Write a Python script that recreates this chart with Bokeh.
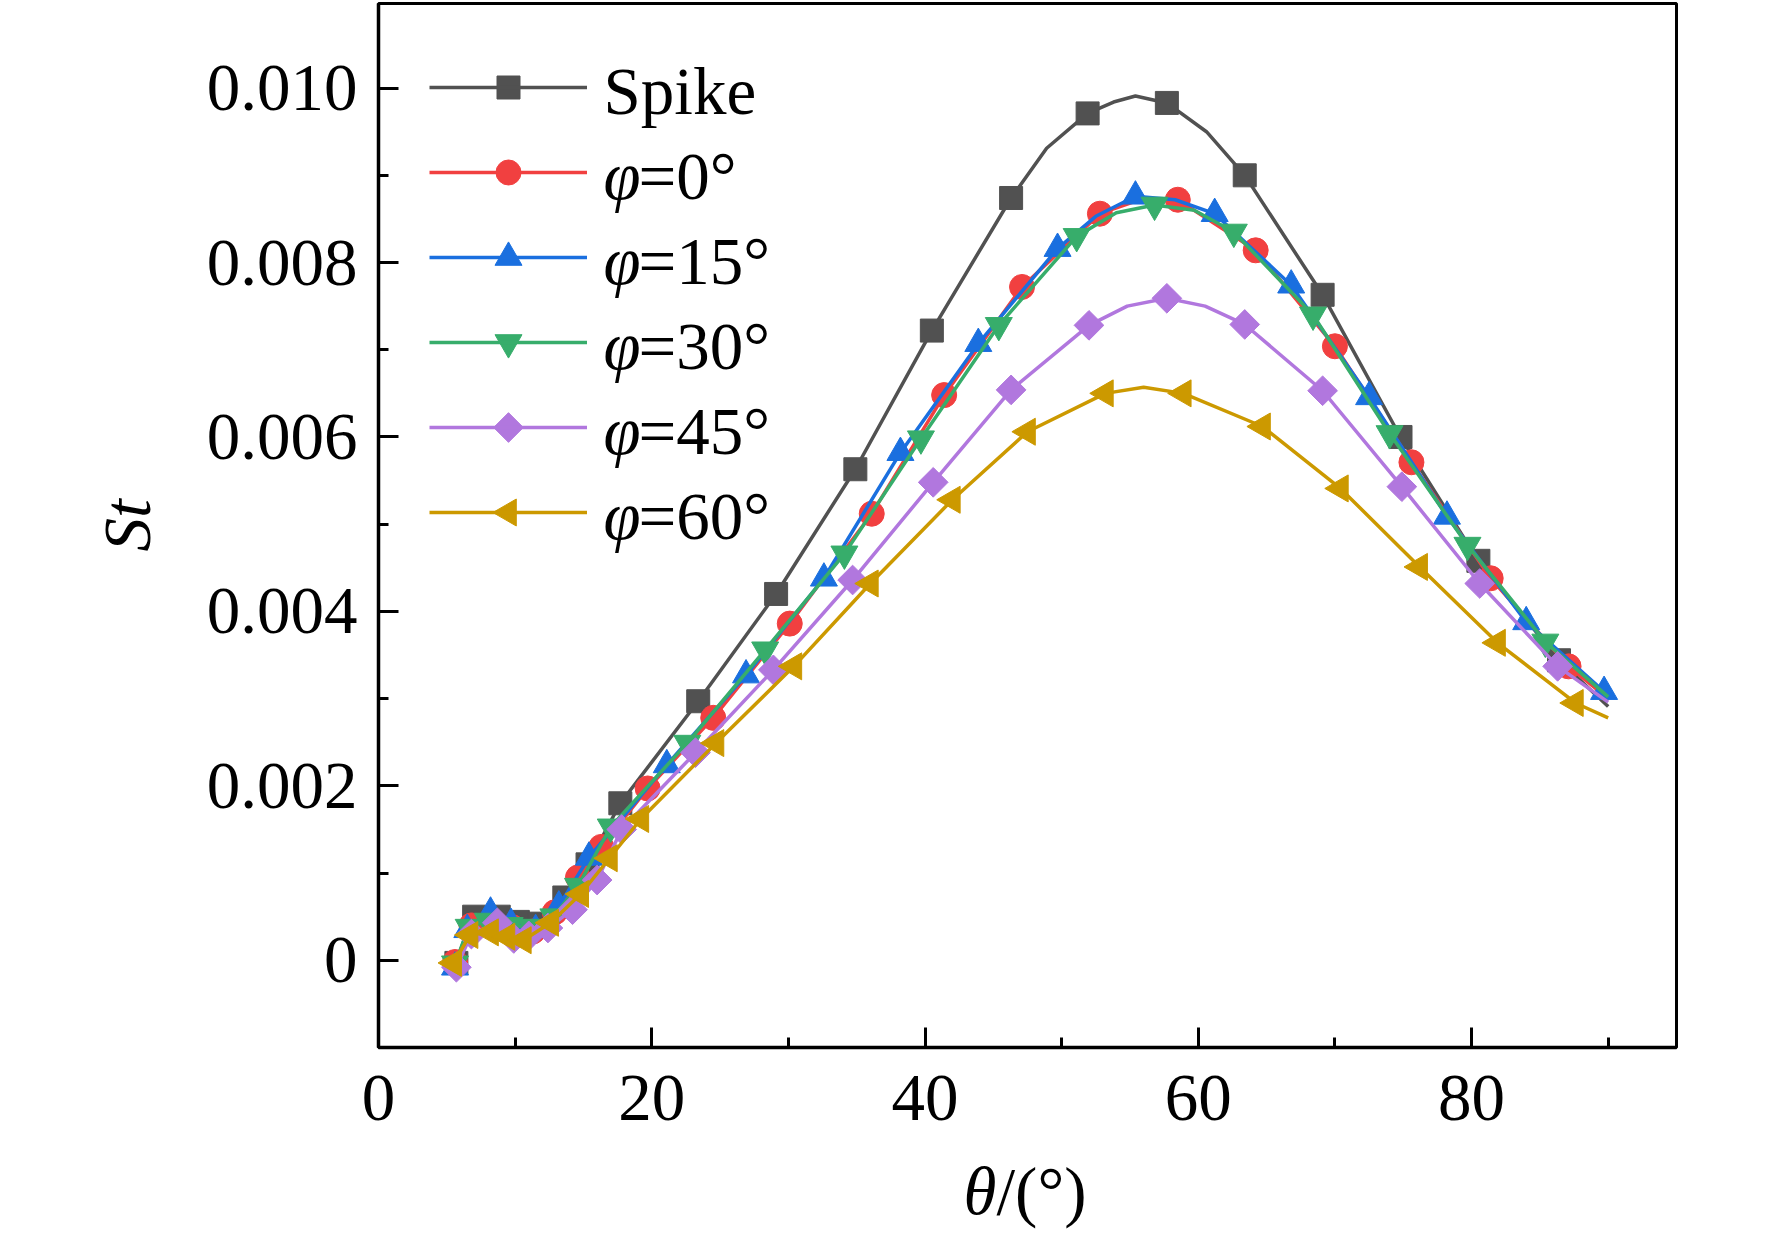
import math
from bokeh.plotting import figure
from bokeh.layouts import column
from bokeh.models import Range1d, FixedTicker, Legend, LegendItem, Label, CustomJSTickFormatter
from bokeh.core.properties import value
from bokeh.embed import file_html
from bokeh.resources import INLINE

FONT = "Liberation Serif"

# ---------------- data (theta in degrees, St) ----------------
spike_x = [5.7, 7.0, 8.8, 10.2, 11.8, 13.6, 15.3, 17.7, 23.4, 29.1, 34.9, 40.5, 46.3, 51.9, 57.7, 63.4, 69.1, 74.8, 80.5, 86.4]
spike_y = [-0.00003, 0.00050, 0.00050, 0.00044, 0.00042, 0.00072, 0.00110, 0.00180, 0.00297, 0.00420, 0.00563, 0.00722, 0.00874, 0.00971, 0.00983, 0.00900, 0.00763, 0.00600, 0.00458, 0.00344]
spike_lx = [48.9, 53.8, 55.4, 60.6, 90.0]
spike_ly = [0.00931, 0.00984, 0.00991, 0.00950, 0.00291]

phi0_x = [5.6, 6.8, 8.3, 9.8, 11.3, 12.9, 14.6, 16.3, 19.7, 24.5, 30.1, 36.1, 41.4, 47.1, 52.8, 58.5, 64.2, 70.0, 75.6, 81.4, 87.1]
phi0_y = [-0.00002, 0.00040, 0.00045, 0.00038, 0.00033, 0.00055, 0.00095, 0.00130, 0.00197, 0.00278, 0.00386, 0.00512, 0.00648, 0.00772, 0.00856, 0.00872, 0.00814, 0.00704, 0.00571, 0.00438, 0.00337]
phi0_lx = [55.7, 90.0]
phi0_ly = [0.00872, 0.00300]

phi15_x = [5.6, 6.5, 8.2, 9.7, 11.5, 13.2, 15.4, 21.1, 26.9, 32.6, 38.2, 43.9, 49.7, 55.4, 61.2, 66.8, 72.5, 78.2, 84.0, 89.7]
phi15_y = [-0.00008, 0.00035, 0.00055, 0.00042, 0.00035, 0.00062, 0.00118, 0.00224, 0.00327, 0.00438, 0.00582, 0.00707, 0.00816, 0.00876, 0.00856, 0.00774, 0.00646, 0.00509, 0.00388, 0.00308]
phi15_lx = [52.5, 58.3, 90.0]
phi15_ly = [0.00853, 0.00872, 0.00304]

phi30_x = [5.6, 6.6, 8.0, 9.6, 11.2, 12.8, 14.6, 17.0, 22.6, 28.3, 34.1, 39.7, 45.4, 51.1, 56.8, 62.6, 68.4, 74.0, 79.7, 85.4]
phi30_y = [-0.00004, 0.00038, 0.00045, 0.00040, 0.00038, 0.00050, 0.00085, 0.00153, 0.00249, 0.00356, 0.00466, 0.00598, 0.00728, 0.00830, 0.00866, 0.00835, 0.00740, 0.00604, 0.00476, 0.00365]
phi30_lx = [54.0, 59.7, 90.0]
phi30_ly = [0.00857, 0.00860, 0.00302]

phi45_x = [5.7, 6.8, 8.7, 9.9, 11.0, 12.4, 14.2, 16.0, 17.8, 23.2, 28.9, 34.7, 40.6, 46.3, 52.0, 57.7, 63.4, 69.1, 74.9, 80.6, 86.3]
phi45_y = [-0.00008, 0.00030, 0.00043, 0.00025, 0.00028, 0.00037, 0.00058, 0.00092, 0.00150, 0.00238, 0.00333, 0.00436, 0.00548, 0.00654, 0.00728, 0.00759, 0.00729, 0.00653, 0.00543, 0.00432, 0.00337]
phi45_lx = [54.8, 60.5, 90.0]
phi45_ly = [0.00750, 0.00750, 0.00296]

phi60_x = [5.5, 6.7, 8.2, 9.4, 10.6, 12.6, 14.8, 16.9, 19.2, 24.7, 30.4, 36.0, 42.0, 47.5, 53.2, 58.9, 64.7, 70.4, 76.2, 81.9, 87.6]
phi60_y = [-0.00003, 0.00029, 0.00032, 0.00027, 0.00023, 0.00043, 0.00076, 0.00117, 0.00162, 0.00249, 0.00337, 0.00432, 0.00528, 0.00606, 0.00650, 0.00650, 0.00612, 0.00541, 0.00451, 0.00364, 0.00295]
phi60_lx = [56.0, 90.0]
phi60_ly = [0.00657, 0.00278]

x_ticks = [0, 20, 40, 60, 80]
x_minor = [10, 30, 50, 70, 90]
y_ticks = [0, 0.002, 0.004, 0.006, 0.008, 0.010]
y_minor = [0.001, 0.003, 0.005, 0.007, 0.009]

series_names = ["Spike", "=0°", "=15°", "=30°", "=45°", "=60°"]
colors = ["#515151", "#F14040", "#1A6FDF", "#37AD6B", "#B177DE", "#CC9900"]

# ---------------- layout constants ----------------
W = 1770
BL, BT, BR, BB = 378, 3, 94, 113
FW, FH = W - BL - BR, 1044                 # frame 1298 x 1044
H = BT + FH + BB                           # main figure height
H2 = 82                                    # strip holding the x-axis title
X0, X1 = 0, 95
Y0, Y1 = -0.001, 0.01097
FS = "67px"

p = figure(width=W, height=H,
           min_border_left=BL, min_border_top=BT, min_border_right=BR, min_border_bottom=BB,
           x_range=Range1d(X0, X1), y_range=Range1d(Y0, Y1),
           output_backend="svg", toolbar_location=None)
p.grid.visible = False
p.outline_line_color = "black"
p.outline_line_width = 3
p.background_fill_color = "white"
p.border_fill_color = "white"

for ax in (p.xaxis[0], p.yaxis[0]):
    ax.axis_line_width = 3.5
    ax.axis_line_color = "black"
    ax.major_tick_in = 20
    ax.major_tick_out = 0
    ax.minor_tick_in = 10
    ax.minor_tick_out = 0
    ax.major_tick_line_width = 3
    ax.minor_tick_line_width = 3
    ax.major_tick_line_color = "black"
    ax.minor_tick_line_color = "black"
    ax.major_label_text_font = FONT
    ax.major_label_text_font_size = FS
    ax.major_label_text_color = "black"

p.xaxis.ticker = FixedTicker(ticks=x_ticks, minor_ticks=x_minor)
p.yaxis.ticker = FixedTicker(ticks=y_ticks, minor_ticks=y_minor)
p.yaxis.formatter = CustomJSTickFormatter(code="return Math.abs(tick) < 1e-12 ? '0' : tick.toFixed(3);")
p.xaxis.major_label_standoff = 28
p.yaxis.major_label_standoff = 21

p.yaxis.axis_label = "St"
p.yaxis.axis_label_text_font = FONT
p.yaxis.axis_label_text_font_style = "italic"
p.yaxis.axis_label_text_font_size = FS
p.yaxis.axis_label_text_color = "black"
p.yaxis.axis_label_standoff = 40

def merged(mx, my, lx, ly):
    pts = sorted(list(zip(mx, my)) + list(zip(lx, ly)))
    return [a for a, _ in pts], [b for _, b in pts]

styles = [("square", 23, 0.0), ("circle", 25, 0.0), ("triangle", 27, 0.0),
          ("inverted_triangle", 27, 0.0), ("square", 21, math.pi / 4), ("triangle", 27, math.pi / 2)]
data = [(spike_x, spike_y, spike_lx, spike_ly), (phi0_x, phi0_y, phi0_lx, phi0_ly),
        (phi15_x, phi15_y, phi15_lx, phi15_ly), (phi30_x, phi30_y, phi30_lx, phi30_ly),
        (phi45_x, phi45_y, phi45_lx, phi45_ly), (phi60_x, phi60_y, phi60_lx, phi60_ly)]

# legend geometry (screen px inside the frame)
LG_LEFT, LG_TOP, LG_ROW, LG_GW, LG_GH = 51, 51, 85, 158, 66
lg_cx = X0 + (LG_LEFT + LG_GW / 2) / FW * (X1 - X0)

items = []
for i, ((mx, my, lx, ly), (mk, sz, ang), col) in enumerate(zip(data, styles, colors)):
    cx, cy = merged(mx, my, lx, ly)
    lr = p.line(cx, cy, line_color=col, line_width=3.5)
    p.scatter(mx, my, marker=mk, size=sz, angle=ang, fill_color=col, line_color=col, line_width=1)
    items.append(LegendItem(label=value(" "), renderers=[lr]))
    # legend symbol (placed at the legend row, converted from screen px)
    row_cy = Y1 - (LG_TOP + LG_GH / 2 + LG_ROW * i) / FH * (Y1 - Y0)
    p.scatter([lg_cx], [row_cy], marker=mk, size=sz, angle=ang, fill_color=col, line_color=col, line_width=1)

legend = Legend(items=items, location="top_left", margin=LG_LEFT, padding=0, spacing=LG_ROW - LG_GH,
                glyph_width=LG_GW, glyph_height=LG_GH, label_height=LG_GH, label_width=1,
                label_standoff=0, label_text_font_size="1px",
                border_line_color=None, background_fill_alpha=0)
p.add_layout(legend)

# legend texts (phi italic, rest upright)
for i, name in enumerate(series_names):
    yy = FH - (LG_TOP + LG_GH / 2 + 3 + LG_ROW * i)
    if i == 0:
        p.add_layout(Label(x=225, y=yy, x_units="screen", y_units="screen", text=name, text_color="black",
                           text_font=FONT, text_font_size=FS, text_baseline="middle", text_align="left"))
    else:
        p.add_layout(Label(x=225, y=yy, x_units="screen", y_units="screen", text="φ", text_color="black",
                           text_font=FONT, text_font_style="italic", text_font_size=FS,
                           text_baseline="middle", text_align="left"))
        p.add_layout(Label(x=260, y=yy, x_units="screen", y_units="screen", text=name, text_color="black",
                           text_font=FONT, text_font_size=FS, text_baseline="middle", text_align="left"))

# ---------------- x-axis title strip (italic theta + upright rest) ----------------
t = figure(width=W, height=H2, x_range=Range1d(0, FW), y_range=Range1d(0, H2),
           min_border_left=BL, min_border_right=BR, min_border_top=0, min_border_bottom=0,
           x_axis_location=None, y_axis_location=None,
           output_backend="svg", toolbar_location=None)
t.grid.visible = False
t.outline_line_color = None
t.background_fill_color = "white"
t.border_fill_color = "white"
TX = 996 - BL                 # junction of theta and "/" (page px -> frame px)
TY = 52                       # text baseline, px above the strip frame's bottom
t.add_layout(Label(x=TX, y=TY, x_units="screen", y_units="screen", text="θ", text_color="black",
                   text_font=FONT, text_font_style="italic", text_font_size=FS,
                   text_baseline="alphabetic", text_align="right"))
t.add_layout(Label(x=TX, y=TY, x_units="screen", y_units="screen", text="/(°)", text_color="black",
                   text_font=FONT, text_font_size=FS,
                   text_baseline="alphabetic", text_align="left"))

layout = column(p, t, spacing=0)
open("out.html", "w").write(file_html(layout, INLINE))
